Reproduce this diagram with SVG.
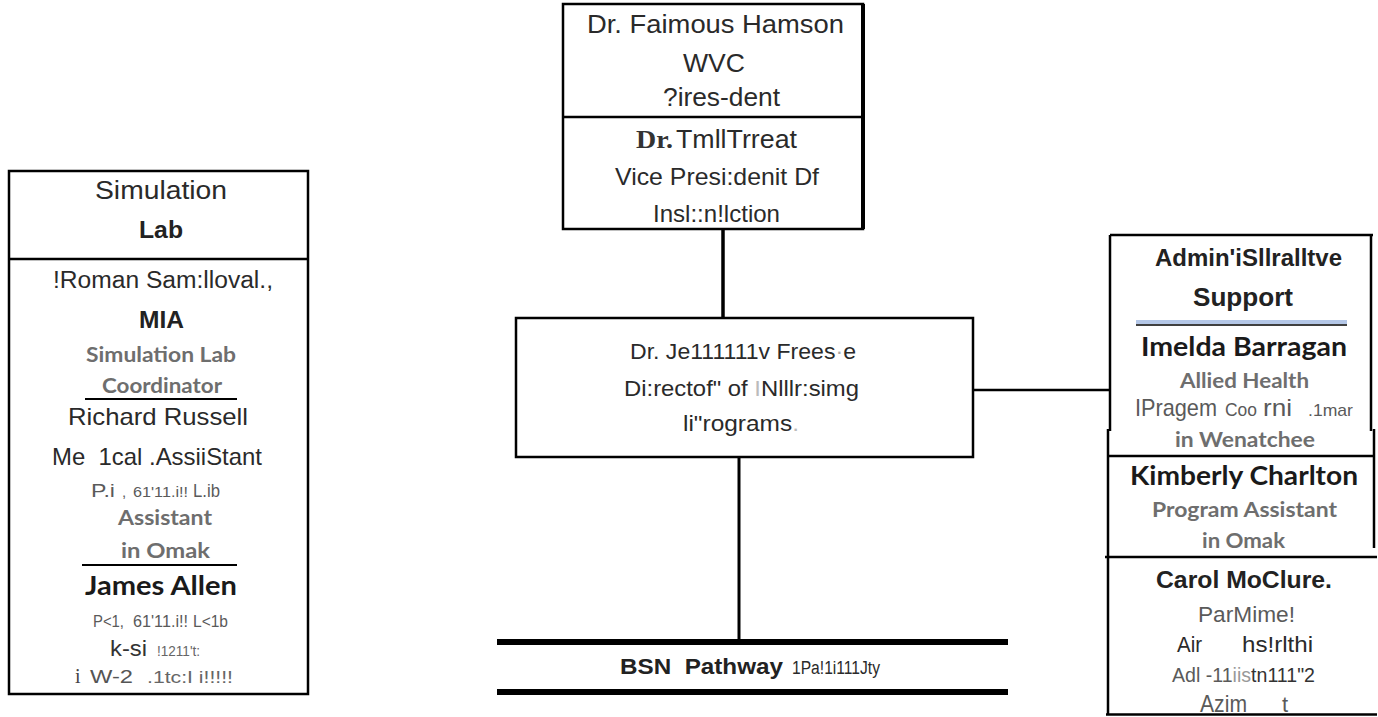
<svg xmlns="http://www.w3.org/2000/svg" width="1378" height="717" viewBox="0 0 1378 717">
<style>
.box{fill:#fff;stroke:#000;stroke-width:2.5}
.ln{stroke:#000;stroke-width:2.5;fill:none}
.a{font-family:"Liberation Sans",Arial,sans-serif;fill:#2a2a2a;white-space:pre}
.ab{font-family:"Liberation Sans",Arial,sans-serif;font-weight:bold;fill:#222;white-space:pre}
.g{font-family:"Liberation Sans",Arial,sans-serif;fill:#5a5a5a;white-space:pre}
.c{font-family:Lato,"Open Sans",sans-serif;font-weight:bold;fill:#6e6e6e;white-space:pre}
.cb{font-family:Lato,"Open Sans",sans-serif;font-weight:bold;fill:#1a1a1a;white-space:pre}
.t{font-family:"Liberation Serif","Times New Roman",serif;font-weight:bold;fill:#333}
</style>
<rect width="1378" height="717" fill="#fff"/>

<g id="connectors">
<line class="ln" x1="723" y1="229" x2="723" y2="318" style="stroke-width:3.5"/>
<line class="ln" x1="739" y1="457" x2="739" y2="640" style="stroke-width:3"/>
<line class="ln" x1="973" y1="390" x2="1110" y2="390"/>
</g>

<g id="simulation-lab">
<rect class="box" x="9" y="171" width="299" height="523"/>
<line class="ln" x1="9" y1="259" x2="308" y2="259"/>
<text class="a" x="95" y="199" font-size="25" textLength="132" lengthAdjust="spacingAndGlyphs">Simulation</text>
<text class="ab" x="139" y="238" font-size="24" textLength="44" lengthAdjust="spacingAndGlyphs">Lab</text>
<text class="a" x="53" y="288" font-size="23" fill="#333" textLength="220" lengthAdjust="spacingAndGlyphs">!Roman Sam:lloval.,</text>
<text class="ab" x="139" y="328" font-size="24" textLength="45" lengthAdjust="spacingAndGlyphs">MIA</text>
<text class="c" x="86" y="362" font-size="21" textLength="150" lengthAdjust="spacingAndGlyphs">Simulation Lab</text>
<text class="c" x="102" y="393" font-size="21" textLength="120" lengthAdjust="spacingAndGlyphs">Coordinator</text>
<line class="ln" x1="85" y1="399" x2="237" y2="399" style="stroke-width:2"/>
<text class="a" x="68" y="425" font-size="24" textLength="180" lengthAdjust="spacingAndGlyphs">Richard Russell</text>
<text class="a" x="52" y="465" font-size="24" fill="#333" textLength="210" lengthAdjust="spacingAndGlyphs">Me  1cal .AssiiStant</text>
<text class="g" y="497"><tspan x="91" font-size="19" textLength="24" lengthAdjust="spacingAndGlyphs">P.i</tspan><tspan x="122" font-size="15">,</tspan><tspan x="133" font-size="15" textLength="55" lengthAdjust="spacingAndGlyphs">61'11.i!!</tspan><tspan x="193" font-size="18" textLength="27" lengthAdjust="spacingAndGlyphs">L.ib</tspan></text>
<text class="c" x="118" y="525" font-size="21" textLength="94" lengthAdjust="spacingAndGlyphs">Assistant</text>
<text class="c" x="121" y="558" font-size="21" textLength="89" lengthAdjust="spacingAndGlyphs">in Omak</text>
<line class="ln" x1="82" y1="565" x2="237" y2="565" style="stroke-width:2"/>
<text class="cb" x="85" y="595" font-size="26" textLength="152" lengthAdjust="spacingAndGlyphs">James Allen</text>
<text class="g" y="627" font-size="16"><tspan x="93" textLength="31" lengthAdjust="spacingAndGlyphs">P&lt;1,</tspan><tspan x="133" textLength="55" lengthAdjust="spacingAndGlyphs">61'11.i!!</tspan><tspan x="193" textLength="35" lengthAdjust="spacingAndGlyphs">L&lt;1b</tspan></text>
<text class="a" y="656"><tspan x="110" font-size="22" fill="#333" textLength="37" lengthAdjust="spacingAndGlyphs">k-si</tspan><tspan x="157" font-size="15" fill="#666" textLength="43" lengthAdjust="spacingAndGlyphs">!1211't:</tspan></text>
<text class="g" y="683"><tspan x="75" font-size="20" font-family="Liberation Serif,serif" fill="#444">i</tspan><tspan x="90" font-size="19" fill="#555" textLength="43" lengthAdjust="spacingAndGlyphs">W-2</tspan><tspan x="147" font-size="17" fill="#666" textLength="86" lengthAdjust="spacingAndGlyphs">.1tc:I i!!!!!</tspan></text>
</g>

<g id="president">
<rect class="box" x="563" y="4" width="300" height="225"/>
<line class="ln" x1="563" y1="117" x2="863" y2="117"/>
<line class="ln" x1="863" y1="4" x2="863" y2="229" style="stroke-width:4"/>
<text class="a" x="587" y="33" font-size="26" textLength="257" lengthAdjust="spacingAndGlyphs">Dr. Faimous Hamson</text>
<text class="a" x="683" y="72" font-size="25" textLength="62" lengthAdjust="spacingAndGlyphs">WVC</text>
<text class="a" x="663" y="106" font-size="25" textLength="117" lengthAdjust="spacingAndGlyphs">?ires-dent</text>
<text y="148"><tspan class="t" x="636" font-size="26" textLength="37" lengthAdjust="spacingAndGlyphs">Dr.</tspan><tspan class="a" x="676" font-size="25" textLength="121" lengthAdjust="spacingAndGlyphs">TmllTrreat</tspan></text>
<text class="a" x="615" y="185" font-size="24" textLength="204" lengthAdjust="spacingAndGlyphs">Vice Presi:denit Df</text>
<text class="a" x="653" y="222" font-size="24" textLength="127" lengthAdjust="spacingAndGlyphs">Insl::n!lction</text>
</g>

<g id="director">
<rect class="box" x="516" y="318" width="457" height="139"/>
<text class="a" x="630" y="359" font-size="22" textLength="226" lengthAdjust="spacingAndGlyphs">Dr. Je111111v Frees<tspan fill="#aaa">·</tspan>e</text>
<text class="a" x="624" y="396" font-size="22" textLength="235" lengthAdjust="spacingAndGlyphs">Di:rectof" of <tspan fill="#bbb">I</tspan>Nlllr:simg</text>
<text class="a" x="683" y="431" font-size="22" textLength="116" lengthAdjust="spacingAndGlyphs">li"rograms<tspan fill="#bbb">.</tspan></text>
</g>

<g id="bsn-pathway">
<line x1="497" y1="642" x2="1008" y2="642" stroke="#000" stroke-width="6"/>
<line x1="497" y1="692" x2="1008" y2="692" stroke="#000" stroke-width="6"/>
<text class="ab" x="620" y="674" font-size="22" fill="#333" textLength="163" lengthAdjust="spacingAndGlyphs">BSN  Pathway</text>
<text class="a" x="792" y="674" font-size="18" fill="#333" textLength="88" lengthAdjust="spacingAndGlyphs">1Pa!1i111Jty</text>
</g>

<g id="admin-support">
<line class="ln" x1="1110" y1="235" x2="1373" y2="235"/>
<line class="ln" x1="1110" y1="235" x2="1110" y2="431"/>
<line class="ln" x1="1108" y1="429" x2="1108" y2="715"/>
<line class="ln" x1="1371" y1="235" x2="1371" y2="431"/>
<line class="ln" x1="1374" y1="429" x2="1374" y2="548"/>
<line class="ln" x1="1108" y1="456" x2="1374" y2="456"/>
<line class="ln" x1="1105" y1="557" x2="1377" y2="557"/>
<text class="ab" x="1155" y="266" font-size="24" textLength="187" lengthAdjust="spacingAndGlyphs">Admin'iSllralltve</text>
<text class="ab" x="1193" y="306" font-size="25" textLength="100" lengthAdjust="spacingAndGlyphs">Support</text>
<rect x="1136" y="320" width="211" height="4" fill="#b4c7e7"/>
<line x1="1136" y1="325" x2="1347" y2="325" stroke="#000" stroke-width="1.5"/>
<text class="cb" x="1141" y="356" font-size="26" textLength="206" lengthAdjust="spacingAndGlyphs">Imelda Barragan</text>
<text class="c" x="1180" y="388" font-size="21" textLength="129" lengthAdjust="spacingAndGlyphs">Allied Health</text>
<text class="g" y="416" fill="#777"><tspan x="1135" font-size="24" textLength="82" lengthAdjust="spacingAndGlyphs">IPragem</tspan><tspan x="1225" font-size="18" textLength="32" lengthAdjust="spacingAndGlyphs">Coo</tspan><tspan x="1263" font-size="24" textLength="29" lengthAdjust="spacingAndGlyphs">rni</tspan><tspan x="1308" font-size="17" textLength="45" lengthAdjust="spacingAndGlyphs">.1mar</tspan></text>
<text class="c" x="1175" y="447" font-size="21" textLength="140" lengthAdjust="spacingAndGlyphs">in Wenatchee</text>
<text class="cb" x="1130" y="485" font-size="26" textLength="228" lengthAdjust="spacingAndGlyphs">Kimberly Charlton</text>
<text class="c" x="1152" y="517" font-size="21" textLength="185" lengthAdjust="spacingAndGlyphs">Program Assistant</text>
<text class="c" x="1202" y="548" font-size="21" textLength="83" lengthAdjust="spacingAndGlyphs">in Omak</text>
<text class="ab" x="1156" y="588" font-size="24" textLength="176" lengthAdjust="spacingAndGlyphs">Carol MoClure.</text>
<text class="g" x="1198" y="622" font-size="22" textLength="97" lengthAdjust="spacingAndGlyphs">ParMime!</text>
<text class="a" y="652" font-size="22" fill="#444"><tspan x="1177" textLength="25" lengthAdjust="spacingAndGlyphs">Air</tspan><tspan x="1242" textLength="71" lengthAdjust="spacingAndGlyphs">hs!rlthi</tspan></text>
<text class="g" x="1172" y="682" font-size="20" textLength="143" lengthAdjust="spacingAndGlyphs">Adl -11<tspan fill="#999">iis</tspan><tspan fill="#333">tn111"2</tspan></text>
<text class="g" y="712" font-size="24" fill="#444"><tspan x="1200" textLength="47" lengthAdjust="spacingAndGlyphs">Azim</tspan><tspan x="1282" font-size="22">t</tspan></text>
<line class="ln" x1="1106" y1="714.5" x2="1377" y2="714.5"/>
</g>
</svg>
